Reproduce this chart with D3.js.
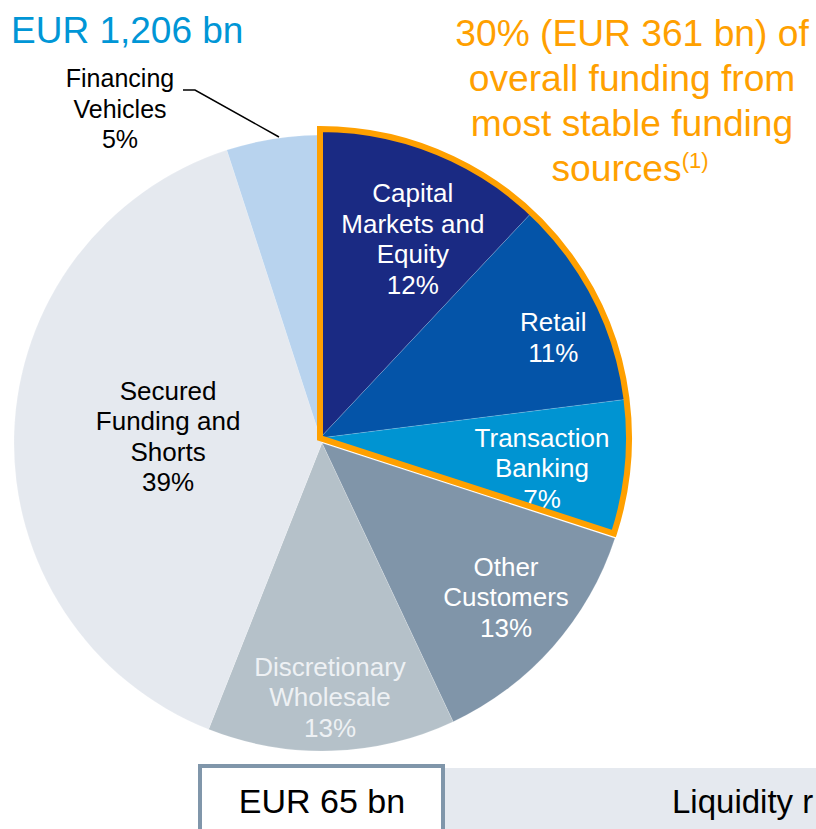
<!DOCTYPE html>
<html><head><meta charset="utf-8">
<script src="https://cdn.jsdelivr.net/npm/d3@7"></script>
<style>body{margin:0;background:#fff;}svg{display:block;font-family:"Liberation Sans",Arial,sans-serif;}</style>
</head><body>
<svg id="c" width="816" height="829"></svg>
<script>
const categories = [
  ["Capital", "Markets and", "Equity"],
  ["Retail"],
  ["Transaction", "Banking"],
  ["Other", "Customers"],
  ["Discretionary", "Wholesale"],
  ["Secured", "Funding and", "Shorts"],
  ["Financing", "Vehicles"]
];
const shares = [12, 11, 7, 13, 13, 39, 5];
const highlighted = [true, true, true, false, false, false, false];
const colors = ["#1a2a83", "#0454a8", "#0094d2", "#8095a9", "#b5c1c9", "#e5e9ef", "#b8d3ee"];
const labelColors = ["#ffffff", "#ffffff", "#ffffff", "#ffffff", "#eef1f4", "#000000", "#000000"];
const totalLabel = "EUR 1,206 bn";
const stableLines = ["30% (EUR 361 bn) of", "overall funding from", "most stable funding", "sources"];
const stableNote = "(1)";
const boxLeft = "EUR 65 bn";
const boxRight = "Liquidity r";

const svg = d3.select("#c");
const cx = 322, cy = 443, R = 308;
const hiOffset = [-2, -5];
// layout: label radius and small nudges per slice
const labelR = [225, 255, 222, 240, 254, 154, null];
const nudge = [[10, 10], [6, 15], [1, 9], [4, -5], [0, 0], [0, -2], [0, 0]];

const pie = d3.pie().sort(null).value(d => d).startAngle(0).endAngle(2 * Math.PI);
const arcs = pie(shares);
const arc = d3.arc().innerRadius(0).outerRadius(R);

const g = svg.append("g").attr("transform", `translate(${cx},${cy})`);
arcs.forEach((a, i) => {
  const off = highlighted[i] ? hiOffset : [0, 0];
  g.append("path").attr("d", arc(a)).attr("fill", colors[i])
    .attr("transform", `translate(${off[0]},${off[1]})`)
    .attr("stroke", "#ffffff").attr("stroke-opacity", 0.25).attr("stroke-width", 0.6);
});

// labels
const fs = 26, lh = 30.5;
arcs.forEach((a, i) => {
  if (labelR[i] == null) return;
  const off = highlighted[i] ? hiOffset : [0, 0];
  const mid = (a.startAngle + a.endAngle) / 2;
  const lx = off[0] + nudge[i][0] + labelR[i] * Math.sin(mid);
  const ly = off[1] + nudge[i][1] - labelR[i] * Math.cos(mid);
  const lines = categories[i].concat([shares[i] + "%"]);
  const t = g.append("text").attr("text-anchor", "middle").attr("fill", labelColors[i]).attr("font-size", fs);
  lines.forEach((s, k) => {
    t.append("tspan").attr("x", lx).attr("y", ly + (k - (lines.length - 1) / 2) * lh + fs * 0.36).text(s);
  });
});

// orange outline around highlighted slices
const hiEnd = d3.max(arcs.filter((a, i) => highlighted[i]), a => a.endAngle);
const outline = d3.arc().innerRadius(0).outerRadius(R + 1)({startAngle: 0, endAngle: hiEnd});
g.append("path").attr("d", outline).attr("fill", "none").attr("stroke", "#ffa000")
  .attr("stroke-width", 6).attr("stroke-linejoin", "miter")
  .attr("transform", `translate(${hiOffset[0]},${hiOffset[1]})`);

// Financing vehicles label (outside) with leader
const fi = 6;
const ft = svg.append("text").attr("text-anchor", "middle").attr("fill", labelColors[fi]).attr("font-size", 25);
categories[fi].concat([shares[fi] + "%"]).forEach((s, k) => {
  ft.append("tspan").attr("x", 120).attr("y", 87 + k * 30.5).text(s);
});
svg.append("polyline").attr("points", "183,90 195,90 279,137").attr("fill", "none")
  .attr("stroke", "#000").attr("stroke-width", 1.5);

// title
svg.append("text").attr("x", 11).attr("y", 43).attr("font-size", 37).attr("fill", "#0096d6").text(totalLabel);

// orange text
const ot = svg.append("text").attr("text-anchor", "middle").attr("fill", "#ffa000").attr("font-size", 37.2);
stableLines.forEach((s, k) => {
  const ts = ot.append("tspan").attr("x", 632).attr("y", 46 + k * 45).text(s);
  if (k === stableLines.length - 1) {
    ts.attr("x", 630);
    ot.append("tspan").attr("font-size", 22).attr("dy", -13).text(stableNote);
  }
});

// bottom boxes
svg.append("rect").attr("x", 444).attr("y", 768).attr("width", 400).attr("height", 70).attr("fill", "#e5e9ef");
svg.append("rect").attr("x", 200).attr("y", 766).attr("width", 243).attr("height", 70)
  .attr("fill", "#fff").attr("stroke", "#8096aa").attr("stroke-width", 4);
svg.append("text").attr("x", 322).attr("y", 813).attr("text-anchor", "middle").attr("font-size", 34).attr("fill", "#000").text(boxLeft);
svg.append("text").attr("x", 672).attr("y", 813).attr("font-size", 33).attr("fill", "#000").text(boxRight);
</script>
</body></html>
